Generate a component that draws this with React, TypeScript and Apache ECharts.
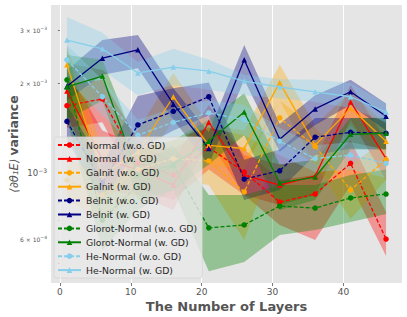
import React, { useEffect, useRef } from "react";
import * as echarts from "echarts";

// x positions (number of layers)
const layers = [1, 6, 11, 16, 21, 26, 31, 36, 41, 46];

// all values below are in units of 1e-3
const normalWoMean = [1.68, 1.77, 1.08, 0.987, 1.22, 1.01, 0.802, 0.853, 1.08, 0.604];
const normalWoHi = [1.97, 2.05, 1.29, 1.2, 1.45, 1.2, 0.95, 0.987, 1.29, 0.743];
const normalWoLo = [1.42, 1.48, 0.88, 0.815, 1.03, 0.847, 0.673, 0.6, 0.914, 0.53];

const normalWMean = [1.88, 1.11, 1.03, 0.914, 1.48, 0.987, 0.914, 0.98, 1.73, 1.12];
const normalWHi = [2.21, 1.39, 1.24, 1.11, 1.69, 1.15, 1.07, 1.11, 1.97, 1.29];
const normalWLo = [1.56, 0.88, 0.847, 0.755, 1.29, 0.847, 0.784, 0.847, 1.51, 0.95];

const gaWoMean = [0.95, 0.847, 1.03, 1.12, 1.1, 0.867, 1.53, 1.23, 0.88, 1.11];
const gaWoHi = [1.11, 1.03, 1.2, 1.29, 1.29, 1.11, 1.75, 1.42, 1.07, 1.29];
const gaWoLo = [0.815, 0.699, 0.847, 0.95, 0.914, 0.6, 1.29, 1.07, 0.705, 0.95];

const gaWMean = [2.3, 0.987, 1.18, 1.8, 1.24, 1.21, 2.01, 1.24, 1.65, 1.28];
const gaWHi = [2.68, 1.2, 1.39, 2.16, 1.45, 1.39, 2.3, 1.45, 1.87, 1.45];
const gaWLo = [1.9, 0.815, 0.987, 1.51, 1.07, 1.03, 1.75, 1.07, 1.45, 1.12];

const beWoMean = [1.49, 0.929, 1.45, 1.61, 1.8, 0.957, 1.02, 1.32, 1.37, 1.36];
const beWoHi = [1.69, 1.07, 1.81, 1.92, 2.01, 1.11, 1.2, 1.53, 1.53, 1.53];
const beWoLo = [1.29, 0.815, 1.2, 1.39, 1.56, 0.815, 0.88, 1.15, 1.21, 1.2];

const beWMean = [1.95, 2.42, 2.58, 1.7, 1.21, 2.39, 1.3, 1.64, 1.87, 1.55];
const beWHi = [2.21, 2.78, 2.89, 1.92, 1.37, 2.68, 1.46, 1.82, 2.05, 1.71];
const beWLo = [1.75, 2.13, 2.24, 1.51, 1.07, 2.05, 1.18, 1.45, 1.69, 1.39];

const glWoMean = [2.05, 0.699, 0.914, 1.06, 0.658, 0.673, 0.778, 0.766, 0.828, 0.853];
const glWoHi = [2.62, 0.88, 1.07, 1.24, 0.847, 0.847, 0.914, 0.914, 0.987, 1.03];
const glWoLo = [1.51, 0.555, 0.755, 0.88, 0.472, 0.506, 0.623, 0.647, 0.688, 0.732];

const glWMean = [1.94, 2.11, 0.987, 1.07, 1.28, 1.6, 0.929, 0.972, 1.35, 1.36];
const glWHi = [2.48, 2.39, 1.2, 1.29, 1.51, 1.85, 1.07, 1.11, 1.53, 1.53];
const glWLo = [1.51, 1.75, 0.815, 0.88, 1.07, 1.34, 0.755, 0.815, 1.2, 1.2];

const heWoMean = [2.39, 1.8, 1.34, 1.48, 1.59, 1.51, 1.28, 1.12, 1.15, 1.08];
const heWoHi = [2.68, 2.05, 1.51, 1.65, 1.75, 1.69, 1.42, 1.24, 1.27, 1.2];
const heWoLo = [2.05, 1.56, 1.2, 1.31, 1.42, 1.34, 1.15, 1.01, 1.03, 0.965];

const heWMean = [2.78, 2.6, 2.16, 2.26, 2.19, 2.03, 1.94, 1.87, 1.8, 1.6];
const heWHi = [3.32, 2.94, 2.35, 2.6, 2.39, 2.13, 2.06, 2.05, 2.0, 1.71];
const heWLo = [2.33, 2.21, 1.82, 1.97, 1.9, 1.82, 1.78, 1.73, 1.65, 1.48];

const xTicks = [0, 10, 20, 30, 40];
const yLabelTicks = [6e-4, 1e-3, 2e-3, 3e-3];
const yTickMarks = [5e-4, 6e-4, 7e-4, 8e-4, 9e-4, 1e-3, 2e-3, 3e-3];

const UNIT = 1e-3;
const FONT = "DejaVu Sans";

const defs = [
  { name: "Normal (w.o. GD)", color: "#ff0000", dashed: true, mean: normalWoMean, lo: normalWoLo, hi: normalWoHi },
  { name: "Normal (w. GD)", color: "#ff0000", dashed: false, mean: normalWMean, lo: normalWLo, hi: normalWHi },
  { name: "GaInit (w.o. GD)", color: "#ffa500", dashed: true, mean: gaWoMean, lo: gaWoLo, hi: gaWoHi },
  { name: "GaInit (w. GD)", color: "#ffa500", dashed: false, mean: gaWMean, lo: gaWLo, hi: gaWHi },
  { name: "BeInit (w.o. GD)", color: "#000080", dashed: true, mean: beWoMean, lo: beWoLo, hi: beWoHi },
  { name: "BeInit (w. GD)", color: "#000080", dashed: false, mean: beWMean, lo: beWLo, hi: beWHi },
  { name: "Glorot-Normal (w.o. GD)", color: "#008000", dashed: true, mean: glWoMean, lo: glWoLo, hi: glWoHi },
  { name: "Glorot-Normal (w. GD)", color: "#008000", dashed: false, mean: glWMean, lo: glWLo, hi: glWHi },
  { name: "He-Normal (w.o. GD)", color: "#87ceeb", dashed: true, mean: heWoMean, lo: heWoLo, hi: heWoHi },
  { name: "He-Normal (w. GD)", color: "#87ceeb", dashed: false, mean: heWMean, lo: heWLo, hi: heWHi },
];

function buildOption() {
  const series: any[] = [];
  defs.forEach((d) => {
    series.push({
      type: "custom",
      silent: true,
      clip: true,
      z: 2,
      data: layers.map((x, j) => [x, d.lo[j] * UNIT, d.hi[j] * UNIT]),
      encode: { x: 0, y: [1, 2] },
      renderItem: (params: any, api: any) => {
        if (params.dataIndex !== 0) return null;
        const top = layers.map((x, j) => api.coord([x, d.hi[j] * UNIT]));
        const bottom = layers.map((x, j) => api.coord([x, d.lo[j] * UNIT])).reverse();
        return {
          type: "polygon",
          shape: { points: top.concat(bottom) },
          style: { fill: d.color, opacity: 0.35 },
        };
      },
    });
  });
  defs.forEach((d, i) => {
    series.push({
      type: "line",
      name: d.name,
      data: layers.map((x, j) => [x, d.mean[j] * UNIT]),
      symbol: d.dashed ? "circle" : "triangle",
      symbolSize: 5.5,
      showSymbol: true,
      lineStyle: { color: d.color, width: 1.3, type: d.dashed ? [4, 2] : "solid" },
      itemStyle: { color: d.color },
      z: 3,
      markLine:
        i === 0
          ? {
              silent: true,
              symbol: "none",
              z: 1,
              label: { show: false },
              lineStyle: { color: "#ffffff", width: 1, type: "solid" },
              data: [{ yAxis: 1e-3 }],
            }
          : undefined,
    });
  });

  return {
    animation: false,
    grid: {
      show: true,
      backgroundColor: "#E5E5E5",
      borderWidth: 0,
      left: 51,
      right: 5,
      top: 5,
      bottom: 34,
      containLabel: false,
      outerBoundsMode: "none",
    },
    legend: {
      data: defs.map((d) => d.name),
      orient: "vertical",
      left: 54,
      top: 137,
      itemWidth: 23,
      itemHeight: 7,
      itemGap: 3.9,
      padding: [3, 5, 3, 3],
      backgroundColor: "rgba(232,232,232,0.82)",
      borderColor: "rgba(210,210,210,0.9)",
      borderWidth: 0.8,
      borderRadius: 3,
      selectedMode: false,
      z: 10,
      textStyle: { fontFamily: FONT, fontSize: 9.3, color: "#262626", lineHeight: 10 },
    },
    xAxis: {
      type: "value",
      min: -1.25,
      max: 48.25,
      name: "The Number of Layers",
      nameLocation: "middle",
      nameGap: 17,
      nameMoveOverlap: false,
      nameTextStyle: { fontFamily: FONT, fontSize: 13, fontWeight: "bold", color: "#555555" },
      axisLine: { show: false },
      axisTick: { show: true, customValues: xTicks, length: 3, lineStyle: { color: "#555555", width: 0.8 } },
      axisLabel: { customValues: xTicks, margin: 4, fontFamily: FONT, fontSize: 9, color: "#555555" },
      splitLine: { show: true, lineStyle: { color: "#ffffff", width: 1 } },
    },
    yAxis: {
      type: "log",
      logBase: 10,
      min: 4.31e-4,
      max: 3.64e-3,
      name: "{m|⟨∂θ₁E⟩} {b|variance}",
      nameLocation: "middle",
      nameRotate: 90,
      nameGap: 31,
      nameMoveOverlap: false,
      nameTextStyle: {
        rich: {
          m: { fontFamily: FONT, fontSize: 11.5, fontStyle: "italic", color: "#555555" },
          b: { fontFamily: FONT, fontSize: 12.5, fontWeight: "bold", color: "#555555" },
        },
      },
      axisLine: { show: false },
      axisTick: { show: true, customValues: yTickMarks, length: 2, lineStyle: { color: "#555555", width: 0.8 } },
      axisLabel: {
        customValues: yLabelTicks,
        margin: 4,
        formatter: (v: number) => {
          const e = Math.floor(Math.log10(v) + 1e-9);
          const m = Math.round(v / Math.pow(10, e));
          const exp = "−" + String(-e);
          if (m === 1) return "{maj|10}{majs|" + exp + "}";
          return "{mn|" + m + " × 10}{mns|" + exp + "}";
        },
        rich: {
          maj: { fontFamily: FONT, fontSize: 8.5, color: "#555555" },
          majs: { fontFamily: FONT, fontSize: 6, color: "#555555", padding: [0, 0, 6, 0] },
          mn: { fontFamily: FONT, fontSize: 6, color: "#555555" },
          mns: { fontFamily: FONT, fontSize: 4.5, color: "#555555", padding: [0, 0, 4, 0] },
        },
      },
      splitLine: { show: false },
    },
    series,
  };
}

export default function App() {
  const ref = useRef<HTMLDivElement>(null);
  useEffect(() => {
    if (!ref.current) return;
    const chart = echarts.init(ref.current, undefined, { renderer: "svg" });
    chart.setOption(buildOption() as any);
    return () => chart.dispose();
  }, []);
  return (
    <div
      ref={ref}
      style={{ position: "fixed", left: 0, top: 0, width: 407, height: 317, background: "#ffffff" }}
    />
  );
}
